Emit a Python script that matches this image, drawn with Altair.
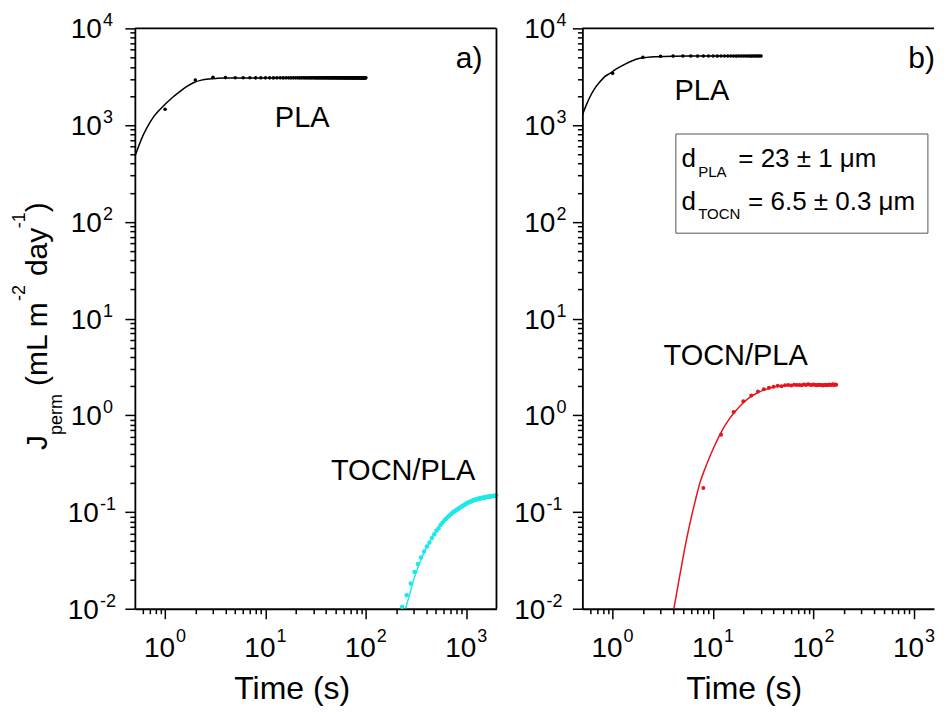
import altair as alt
import pandas as pd

FONT = "Liberation Sans"
H = 581
WA = 362
WB = 352

# ---------------- axis tick values / labels ----------------
y_major = [0.01, 0.1, 1, 10, 100, 1000, 10000]
y_exp = ["-2", "-1", "0", "1", "2", "3", "4"]
x_major = [1, 10, 100, 1000]
x_exp = ["0", "1", "2", "3"]
y_ticks = [m * 10.0 ** e for e in range(-2, 4) for m in range(1, 10)] + [10000]
x_ticks = [0.6, 0.7, 0.8, 0.9] + [m * 10.0 ** e for e in range(0, 3) for m in range(1, 10)] + [1000]

# ---------------- panel a data ----------------
pla_a_t = list(range(1, 101))
pla_a_J = [1456, 2924, 3118, 3095, 3088, 3084, 3082, 3080, 3079, 3078] + \
    [3078, 3076, 3079, 3077, 3075, 3078, 3077, 3076, 3079, 3077] * 9
pla_a_fit_t = [0.5, 0.59, 0.65, 0.75, 0.85, 1.0, 1.2, 1.38, 1.65, 1.94, 2.3, 2.74, 3.3, 4, 6, 10, 30, 100]
pla_a_fit_J = [472, 741, 912, 1175, 1380, 1640, 1950, 2188, 2512, 2754, 2917, 3000, 3041, 3062, 3072, 3076, 3077, 3077]

tocn_a_t = [230, 255, 280, 305, 330, 355, 380, 405, 430, 455, 480, 505, 530, 555, 580, 605, 630, 655,
            680, 705, 730, 755, 780, 805, 830, 855, 880, 905, 930, 955, 980, 1005, 1030, 1055, 1080,
            1105, 1130, 1155, 1180, 1205, 1230, 1255, 1280, 1305, 1330, 1355, 1380, 1405, 1430, 1455,
            1480, 1505, 1530, 1555, 1580, 1605, 1630, 1655, 1680, 1705, 1730, 1755, 1780, 1805, 1830,
            1855, 1880, 1905, 1930, 1955, 1980]
tocn_a_J = [0.0105, 0.0138, 0.0182, 0.0240, 0.0290, 0.0338, 0.0390, 0.0440, 0.0485, 0.0540, 0.0590,
            0.0640, 0.0680, 0.0735, 0.0775, 0.0815, 0.0850, 0.0890, 0.0920, 0.0950, 0.0980, 0.1005,
            0.1030, 0.1055, 0.1075, 0.1100, 0.1120, 0.1145, 0.1160, 0.1185, 0.1200, 0.1225, 0.1240,
            0.1255, 0.1270, 0.1280, 0.1295, 0.1305, 0.1320, 0.1328, 0.1340, 0.1345, 0.1358, 0.1362,
            0.1372, 0.1376, 0.1385, 0.1389, 0.1398, 0.1400, 0.1408, 0.1410, 0.1418, 0.1420, 0.1427,
            0.1428, 0.1435, 0.1436, 0.1442, 0.1443, 0.1449, 0.1450, 0.1455, 0.1455, 0.1461, 0.1460,
            0.1467, 0.1466, 0.1472, 0.1470, 0.1477]
tocn_a_fit_t = [248, 270, 300, 340, 393, 450, 500, 574, 650, 750, 842, 1000, 1233, 1500, 1750, 2000]
tocn_a_fit_J = [0.010, 0.0135, 0.020, 0.029, 0.041, 0.053, 0.063, 0.077, 0.089, 0.100, 0.110, 0.123,
                0.134, 0.141, 0.145, 0.148]

# ---------------- panel b data ----------------
pla_b_t = list(range(1, 31))
pla_b_J = [3428, 5030, 5150, 5165, 5170, 5172, 5168, 5171, 5173, 5170, 5169, 5172, 5171, 5170, 5174,
           5171, 5169, 5172, 5170, 5173, 5171, 5170, 5172, 5169, 5171, 5173, 5170, 5172, 5171, 5170]
pla_b_fit_t = [0.5, 0.541, 0.594, 0.65, 0.748, 0.83, 0.94, 1.1, 1.28, 1.55, 1.87, 2.19, 2.74, 4, 6, 10, 30]
pla_b_fit_J = [1271, 1570, 1950, 2312, 2808, 3155, 3428, 3837, 4178, 4603, 4898, 5012, 5093, 5152, 5165, 5170, 5171]

tocn_b_t = [8, 12, 16, 20, 24, 28, 32, 36, 40, 44, 48, 52, 56, 60, 64, 68, 72, 76, 80, 84, 88, 92, 96,
            100, 104, 108, 112, 116, 120, 124, 128, 132, 136, 140, 144, 148, 152, 156, 160, 164, 168]
tocn_b_J = [0.177, 0.63, 1.08, 1.40, 1.60, 1.76, 1.86, 1.93, 1.97, 2.02, 2.00, 2.04, 2.05, 2.03, 2.07,
            2.05, 2.06, 2.04, 2.08, 2.06, 2.09, 2.07, 2.05, 2.08, 2.06, 2.04, 2.07, 2.05, 2.06, 2.03,
            2.05, 2.07, 2.04, 2.06, 2.08, 2.05, 2.07, 2.09, 2.06, 2.08, 2.07]
tocn_b_fit_t = [4.07, 4.5, 5.05, 5.5, 6.1, 6.7, 7.39, 8.3, 9.29, 10.4, 11.7, 13.1, 14.7, 17, 19.9, 23,
                27.1, 32, 39.7, 48, 58, 80, 120, 170]
tocn_b_fit_J = [0.01, 0.018, 0.0348, 0.055, 0.090, 0.135, 0.20, 0.28, 0.375, 0.49, 0.63, 0.78, 0.935,
                1.13, 1.34, 1.52, 1.69, 1.82, 1.95, 2.01, 2.05, 2.07, 2.08, 2.08]

# ---------------- annotations ----------------
ann_a_text = ["PLA", "TOCN/PLA", "a)"]
ann_a_t = [12.4, 44.9, 787]
ann_a_J = [955, 0.216, 3890]
ann_a_fs = [29, 29, 30]

ann_b_text = ["PLA", "TOCN/PLA", "b)", "d", "PLA", "= 23 ± 1 μm", "d", "TOCN", "= 6.5 ± 0.3 μm"]
ann_b_t = [4.13, 3.21, 876, 4.85, 7.11, 17.8, 4.85, 7.11, 22.3]
ann_b_J = [1817, 3.32, 3890, 372, 293, 372, 132.7, 106.4, 132.7]
ann_b_fs = [29, 29, 30, 26, 15, 26, 26, 15, 26]

box_b = {"t1": [4.26], "t2": [1374], "J1": [76.3], "J2": [809]}

title_pieces = ["J", "perm", "(mL m", "-2", "day", "-1", ")"]
title_dx = [0, 15, 64, 149, 174, 222, 238]
title_kind = ["main", "sub", "main", "sup", "main", "sup", "main"]

CYAN = "#1ee8ea"
RED = "#e6141c"

MAJOR_TEST = "abs(log(datum.value)/LN10 - round(log(datum.value)/LN10)) < 0.001"
TICK_SIZE = {"condition": {"test": MAJOR_TEST, "value": 10}, "value": 5}

ys = alt.Scale(type="log", domain=[0.01, 10000])
axis_y = alt.Axis(values=y_ticks, labels=False, title=None, grid=False, tickColor="black",
                  tickWidth=1.5, tickSize=TICK_SIZE, domainColor="black", domainWidth=1.8)


def axis_x(title_x):
    return alt.Axis(values=x_ticks, labels=False, title="Time (s)", titleX=title_x, titleY=90,
                    titleFont=FONT, titleFontSize=32, titleFontWeight="normal", titleColor="black",
                    titleBaseline="alphabetic", titleAlign="center", grid=False, tickColor="black",
                    tickWidth=1.5, tickSize=TICK_SIZE, domainColor="black", domainWidth=1.8)


def panel(xs, ax, width, pla, pla_fit, tc, tc_fit, color, ann, ydx_pos, ydx_neg, extra=None, ytitle=False):
    X = lambda f: alt.X(f"{f}:Q", scale=xs, axis=ax)
    Y = lambda f: alt.Y(f"{f}:Q", scale=ys, axis=axis_y)
    layers = []
    layers.append(alt.Chart(pd.DataFrame({"t": pla_fit[0], "J": pla_fit[1]})).mark_line(
        color="black", strokeWidth=1.5, interpolate="monotone", clip=True).encode(x=X("t"), y=Y("J")))
    layers.append(alt.Chart(pd.DataFrame({"t": tc_fit[0], "J": tc_fit[1]})).mark_line(
        color=color, strokeWidth=1.5, interpolate="monotone", clip=True).encode(x=X("t"), y=Y("J")))
    layers.append(alt.Chart(pd.DataFrame({"t": pla[0], "J": pla[1]})).mark_circle(
        color="black", size=13, opacity=1).encode(x=X("t"), y=Y("J")))
    layers.append(alt.Chart(pd.DataFrame({"t": tc[0], "J": tc[1]})).mark_circle(
        color=color, size=20 if color == CYAN else 16, opacity=1).encode(x=X("t"), y=Y("J")))
    if extra is not None:
        layers.append(alt.Chart(pd.DataFrame(extra)).mark_rect(
            fill="white", fillOpacity=0, stroke="#555555", strokeWidth=1).encode(
            x=X("t1"), x2="t2", y=Y("J1"), y2="J2"))
    layers.append(alt.Chart(pd.DataFrame({"t": ann[1], "J": ann[2], "txt": ann[0], "fs": ann[3]})).mark_text(
        align="left", baseline="alphabetic", font=FONT, color="black").encode(
        x=X("t"), y=Y("J"), text="txt:N", size=alt.Size("fs:Q", scale=None, legend=None)))
    # y tick labels
    ydf = pd.DataFrame({"J": y_major, "e": y_exp})
    for filt, dxv in (("datum.J >= 1", ydx_pos), ("datum.J < 1", ydx_neg)):
        base = alt.Chart(ydf).transform_filter(filt)
        layers.append(base.mark_text(text="10", align="right", baseline="alphabetic", dx=dxv, dy=10,
                                     fontSize=28, font=FONT, color="black").encode(x=alt.value(0), y=Y("J")))
        layers.append(base.mark_text(align="left", baseline="alphabetic", dx=dxv + 1, dy=-2,
                                     fontSize=18, font=FONT, color="black").encode(x=alt.value(0), y=Y("J"), text="e:N"))
    # x tick labels
    xdf = pd.DataFrame({"t": x_major, "e": x_exp})
    layers.append(alt.Chart(xdf).mark_text(text="10", align="right", baseline="alphabetic", dx=10, dy=48.5,
                                           fontSize=28, font=FONT, color="black").encode(x=X("t"), y=alt.value(H)))
    layers.append(alt.Chart(xdf).mark_text(align="left", baseline="alphabetic", dx=11, dy=33.5,
                                           fontSize=18, font=FONT, color="black").encode(x=X("t"), y=alt.value(H), text="e:N"))
    # frame
    one = pd.DataFrame({"k": [0]})
    layers.append(alt.Chart(one).mark_rule(color="black", strokeWidth=1.8).encode(
        x=alt.value(0), x2=alt.value(width), y=alt.value(0)))
    if ytitle:
        layers.append(alt.Chart(one).mark_rule(color="black", strokeWidth=1.8).encode(
            x=alt.value(width), y=alt.value(0), y2=alt.value(H)))
        for txt, dxv, kind in zip(title_pieces, title_dx, title_kind):
            fs = 30 if kind == "main" else 18
            dyv = {"main": -88, "sub": -73, "sup": -110}[kind]
            layers.append(alt.Chart(one).mark_text(text=txt, angle=270, align="left", baseline="alphabetic",
                                                   dx=dxv, dy=dyv, fontSize=fs, font=FONT, color="black").encode(
                x=alt.value(0), y=alt.value(422)))
    return alt.layer(*layers).properties(width=width, height=H)


xa = alt.Scale(type="log", domain=[0.5, 2000])
xb = alt.Scale(type="log", domain=[0.5, 1580])

panel_a = panel(xa, axis_x(157), WA, (pla_a_t, pla_a_J), (pla_a_fit_t, pla_a_fit_J),
                (tocn_a_t, tocn_a_J), (tocn_a_fit_t, tocn_a_fit_J), CYAN,
                (ann_a_text, ann_a_t, ann_a_J, ann_a_fs), -33, -36, ytitle=True)
panel_b = panel(xb, axis_x(161.5), WB, (pla_b_t, pla_b_J), (pla_b_fit_t, pla_b_fit_J),
                (tocn_b_t, tocn_b_J), (tocn_b_fit_t, tocn_b_fit_J), RED,
                (ann_b_text, ann_b_t, ann_b_J, ann_b_fs), -27, -37, extra=box_b)

chart = alt.hconcat(panel_a, panel_b, spacing=14).properties(
    padding={"left": 2, "top": 3, "right": 0, "bottom": 0},
    background="white",
).configure_view(stroke="transparent").resolve_scale(x="independent")

chart.save("out.html", embed_options={"renderer": "svg", "actions": False})
